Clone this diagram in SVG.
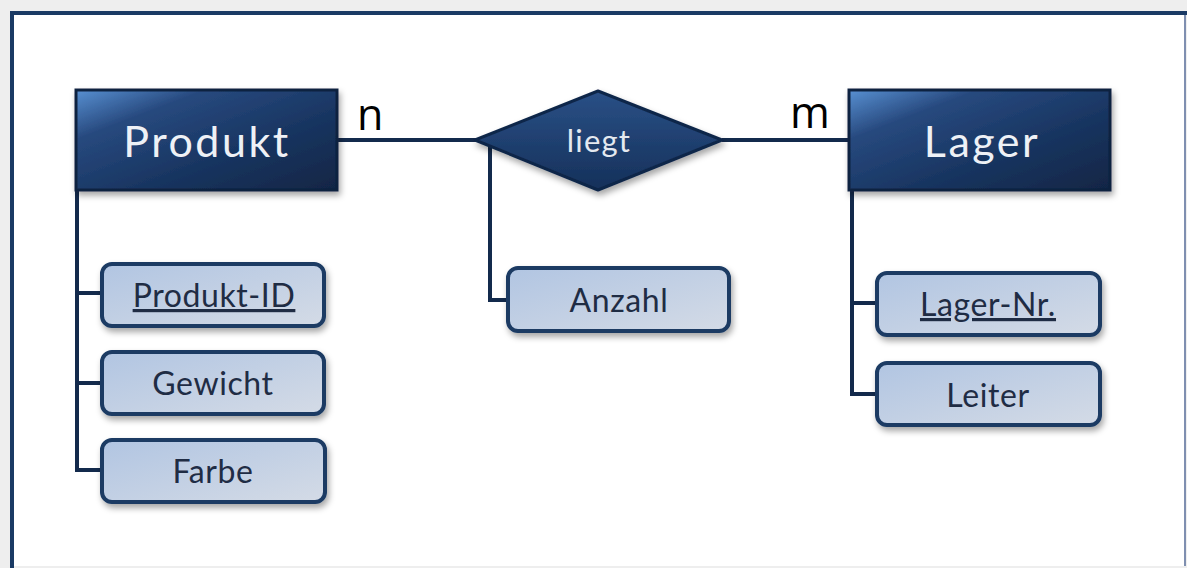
<svg xmlns="http://www.w3.org/2000/svg" width="1187" height="568" viewBox="0 0 1187 568">
  <defs>
    <linearGradient id="entityFill" x1="0" y1="0" x2="1" y2="1">
      <stop offset="0" stop-color="#5890d2"/>
      <stop offset="0.25" stop-color="#27497e"/>
      <stop offset="0.65" stop-color="#17335e"/>
      <stop offset="1" stop-color="#112645"/>
    </linearGradient>
    <linearGradient id="relFill" x1="0" y1="0" x2="0" y2="1">
      <stop offset="0" stop-color="#2a5086"/>
      <stop offset="1" stop-color="#15305a"/>
    </linearGradient>
    <linearGradient id="attrFill" x1="0" y1="0" x2="1" y2="1">
      <stop offset="0" stop-color="#b1c5e2"/>
      <stop offset="1" stop-color="#d4dbe6"/>
    </linearGradient>
    <filter id="shadow" x="-10%" y="-20%" width="130%" height="160%">
      <feDropShadow dx="2" dy="4" stdDeviation="3" flood-color="#000" flood-opacity="0.35"/>
    </filter>
  </defs>
  <style>
    .entity rect { fill: url(#entityFill); stroke: #0f2341; stroke-width: 3; filter: url(#shadow); }
    .entity text { font-family: Lato, "Open Sans", sans-serif; font-size: 43px; fill: #eef1f6; text-anchor: middle; letter-spacing: 2.5px; }
    .rel polygon { fill: url(#relFill); stroke: #10264a; stroke-width: 3; stroke-linejoin: round; filter: url(#shadow); }
    .rel text { font-family: Lato, "Open Sans", sans-serif; font-size: 31px; fill: #e4e9f0; text-anchor: middle; letter-spacing: 1.2px; }
    .attr rect { fill: url(#attrFill); stroke: #1a3a64; stroke-width: 4; filter: url(#shadow); }
    .attr text { font-family: Lato, "Open Sans", sans-serif; font-size: 32px; fill: #1f2c44; text-anchor: middle; letter-spacing: 0.6px; }
    .key { text-decoration: underline; }
    .conn line, .conn polyline { stroke: #132a4c; stroke-width: 4; fill: none; }
    .card { font-family: "Open Sans", Lato, sans-serif; font-size: 43px; fill: #000; }
  </style>

  <!-- page and frame -->
  <rect x="0" y="0" width="1187" height="568" fill="#eeeeee"/>
  <rect x="12" y="13" width="1173" height="553" fill="#ffffff"/>
  <line x1="1185" y1="13" x2="1185" y2="566" stroke="#7f8fb0" stroke-width="2"/>
  <line x1="12" y1="13" x2="1187" y2="13" stroke="#1a3a64" stroke-width="4"/>
  <line x1="12" y1="11" x2="12" y2="568" stroke="#1a3a64" stroke-width="4"/>

  <!-- connectors -->
  <g id="connectors" class="conn">
    <line x1="337" y1="140" x2="476" y2="140"/>
    <line x1="722" y1="140" x2="850" y2="140"/>
    <polyline points="77,190 77,470 102,470"/>
    <line x1="77" y1="293" x2="102" y2="293"/>
    <line x1="77" y1="383" x2="102" y2="383"/>
    <polyline points="490,142 490,300 508,300"/>
    <polyline points="852,190 852,394 877,394"/>
    <line x1="852" y1="303" x2="877" y2="303"/>
    <text class="card" x="357" y="130">n</text>
    <text class="card" x="790" y="128">m</text>
  </g>

  <!-- entities -->
  <g id="produkt" class="entity">
    <rect x="76" y="90" width="261" height="100"/>
    <text x="207" y="157">Produkt</text>
  </g>
  <g id="lager" class="entity">
    <rect x="849" y="90" width="261" height="100"/>
    <text x="982" y="157">Lager</text>
  </g>

  <!-- relationship -->
  <g id="liegt" class="rel">
    <polygon points="475,140 598,91 722,140 598,190"/>
    <text x="599" y="152">liegt</text>
  </g>

  <!-- attributes -->
  <g id="produkt-id" class="attr">
    <rect x="102" y="264" width="222" height="62" rx="10"/>
    <text class="key" x="214" y="307">Produkt-ID</text>
  </g>
  <g id="gewicht" class="attr">
    <rect x="102" y="352" width="222" height="62" rx="10"/>
    <text x="213" y="395">Gewicht</text>
  </g>
  <g id="farbe" class="attr">
    <rect x="102" y="440" width="223" height="62" rx="10"/>
    <text x="213" y="483">Farbe</text>
  </g>
  <g id="anzahl" class="attr">
    <rect x="508" y="268" width="221" height="63" rx="10"/>
    <text x="619" y="312">Anzahl</text>
  </g>
  <g id="lager-nr" class="attr">
    <rect x="877" y="273" width="223" height="62" rx="10"/>
    <text class="key" x="988" y="316">Lager-Nr.</text>
  </g>
  <g id="leiter" class="attr">
    <rect x="877" y="363" width="223" height="62" rx="10"/>
    <text x="988" y="407">Leiter</text>
  </g>
</svg>
